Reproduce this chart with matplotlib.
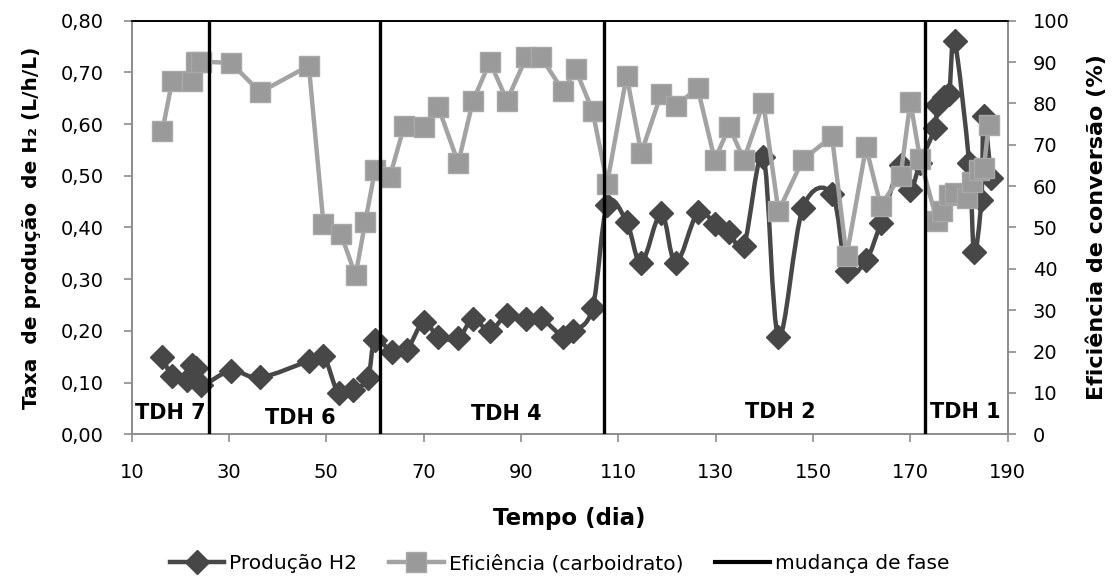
import matplotlib
matplotlib.use("Agg")
import matplotlib.pyplot as plt
from matplotlib.path import Path
from matplotlib.patches import PathPatch
from matplotlib.lines import Line2D
import numpy as np

plt.rcParams['font.family'] = ['DejaVu Sans']

# Produção de H2 (L/h/L)
dias_h2 = [16.3, 18.3, 21.3, 22.3, 23.3, 24.3, 30.4, 36.4, 46.4, 49.4, 52.5, 55.5,
           58.5, 60.0, 63.5, 66.5, 70.0, 73.0, 77.1, 80.1, 83.6, 87.1, 91.1, 94.1,
           98.7, 100.7, 104.7, 107.7, 111.7, 114.7, 118.8, 121.8, 126.3, 129.8,
           132.8, 135.8, 139.8, 142.9, 147.9, 153.9, 156.9, 160.9, 163.9, 168.0,
           170.0, 172.0, 175.0, 175.5, 177.0, 178.0, 179.1, 182.1, 183.1, 184.6,
           185.1, 186.6]
prod_h2 = [0.149, 0.113, 0.105, 0.134, 0.128, 0.095, 0.123, 0.110, 0.142, 0.152,
           0.079, 0.086, 0.108, 0.182, 0.160, 0.163, 0.218, 0.188, 0.186, 0.223,
           0.200, 0.231, 0.223, 0.224, 0.189, 0.199, 0.244, 0.444, 0.411, 0.331,
           0.428, 0.331, 0.429, 0.407, 0.391, 0.365, 0.537, 0.189, 0.437, 0.465,
           0.316, 0.337, 0.408, 0.521, 0.472, 0.525, 0.592, 0.636, 0.652, 0.658,
           0.760, 0.524, 0.353, 0.453, 0.616, 0.495]

# Eficiência de conversão (%)
dias_ef = [16.3, 18.3, 22.3, 23.3, 24.3, 30.4, 36.4, 46.4, 49.4, 53.0, 56.0, 58.0,
           60.0, 63.0, 66.0, 70.0, 73.0, 77.1, 80.1, 83.6, 87.1, 91.1, 94.1, 98.7,
           101.2, 104.7, 107.7, 111.7, 114.7, 118.8, 121.8, 126.3, 129.8, 132.8,
           135.8, 139.8, 142.9, 147.9, 153.9, 156.9, 160.9, 163.9, 168.0, 170.0,
           172.0, 175.5, 176.5, 178.0, 179.1, 181.6, 182.6, 184.1, 185.1, 186.1]
eficiencia = [73.4, 85.3, 85.3, 90.1, 90.1, 89.8, 82.7, 89.1, 50.9, 48.4, 38.4,
              51.4, 63.9, 62.1, 74.6, 74.4, 79.1, 65.6, 80.5, 90.1, 80.7, 91.2,
              91.2, 82.9, 88.3, 78.2, 60.6, 86.7, 68.0, 82.3, 79.4, 83.7, 66.4,
              74.3, 66.4, 80.1, 53.9, 66.4, 72.0, 43.0, 69.4, 55.3, 62.5, 80.4,
              66.6, 51.5, 53.9, 57.9, 58.3, 57.1, 61.0, 63.9, 64.3, 74.7]

# mudança de fase
mudancas = [25.9, 61.0, 107.0, 173.1]
fases = ['TDH 7', 'TDH 6', 'TDH 4', 'TDH 2', 'TDH 1']
fase_x = [10.6, 44.6, 86.9, 143.2, 181.2]
fase_y = [0.041, 0.032, 0.039, 0.043, 0.043]
fase_ha = ['left', 'center', 'center', 'center', 'center']

cor_h2 = '#474747'
cor_ef = '#a3a3a3'
cinza_eixo = '#8c8c8c'


def curva_suave(x, y):
    # linha suavizada como no Excel (Bezier, controles Catmull-Rom)
    pts = np.column_stack([x, y])
    n = len(pts)
    verts = [pts[0]]
    codes = [Path.MOVETO]
    for i in range(n - 1):
        p0 = pts[max(i - 1, 0)]
        p1 = pts[i]
        p2 = pts[i + 1]
        p3 = pts[min(i + 2, n - 1)]
        verts += [p1 + (p2 - p0) / 6.0, p2 - (p3 - p1) / 6.0, p2]
        codes += [Path.CURVE4] * 3
    return Path(verts, codes)


fig = plt.figure(figsize=(11.19, 5.81), dpi=100)
ax = fig.add_axes([0.1177, 0.2525, 0.7828, 0.7119])
ax2 = ax.twinx()

ax.set_xlim(10, 190)
ax.set_ylim(0, 0.8)
ax2.set_ylim(0, 100)

ax.add_patch(PathPatch(curva_suave(dias_h2, prod_h2), fill=False,
                       edgecolor=cor_h2, lw=3.2, zorder=2))
ax.plot(dias_h2, prod_h2, linestyle='none', marker='D', markersize=12,
        color=cor_h2, zorder=3)

ax2.plot(dias_ef, eficiencia, color=cor_ef, lw=3.2, marker='s', markersize=14,
         markerfacecolor='#9a9a9a', markeredgecolor='#a8a8a8', zorder=3)

for d in mudancas:
    ax2.plot([d, d], [0, 100], color='black', lw=2.4, zorder=5)

for t, x, y, ha in zip(fases, fase_x, fase_y, fase_ha):
    ax.text(x, y, t, ha=ha, va='center', fontsize=15, fontweight='bold', zorder=6)

ax.set_xticks(np.arange(10, 191, 20))
ax.set_yticks(np.arange(0, 0.81, 0.1))
ax.set_yticklabels([f'{v:.2f}'.replace('.', ',') for v in np.arange(0, 0.81, 0.1)])
ax2.set_yticks(np.arange(0, 101, 10))

for a in (ax, ax2):
    for s in ('left', 'right', 'bottom'):
        a.spines[s].set_color(cinza_eixo)
        a.spines[s].set_linewidth(1.2)
    a.spines['top'].set_color('black')
    a.spines['top'].set_linewidth(1.2)
    a.tick_params(colors=cinza_eixo, labelcolor='black', labelsize=14,
                  length=6, width=1.2, direction='out')
ax.tick_params(axis='x', pad=15)
ax.tick_params(axis='y', pad=14)
ax2.tick_params(axis='y', pad=12)

ax.set_xlabel('Tempo (dia)', fontsize=16.5, fontweight='bold', labelpad=18)
ax.set_ylabel('Taxa  de produção  de H₂ (L/h/L)', fontsize=14.5,
              fontweight='bold', labelpad=14)
ax2.set_ylabel('Eficiência de conversão (%)', fontsize=16, fontweight='bold',
               labelpad=12)

handles = [Line2D([], [], color=cor_h2, lw=3.2, marker='D', markersize=12),
           Line2D([], [], color=cor_ef, lw=3.2, marker='s', markersize=14,
                  markerfacecolor='#9a9a9a', markeredgecolor='#a8a8a8'),
           Line2D([], [], color='black', lw=3)]
fig.legend(handles, ['Produção H2', 'Eficiência (carboidrato)', 'mudança de fase'],
           loc='center', bbox_to_anchor=(0.5, 0.03), ncol=3, frameon=False,
           fontsize=14.5, handlelength=2.7, handletextpad=0.25, columnspacing=1.6)

fig.savefig('out.png', dpi=100)
